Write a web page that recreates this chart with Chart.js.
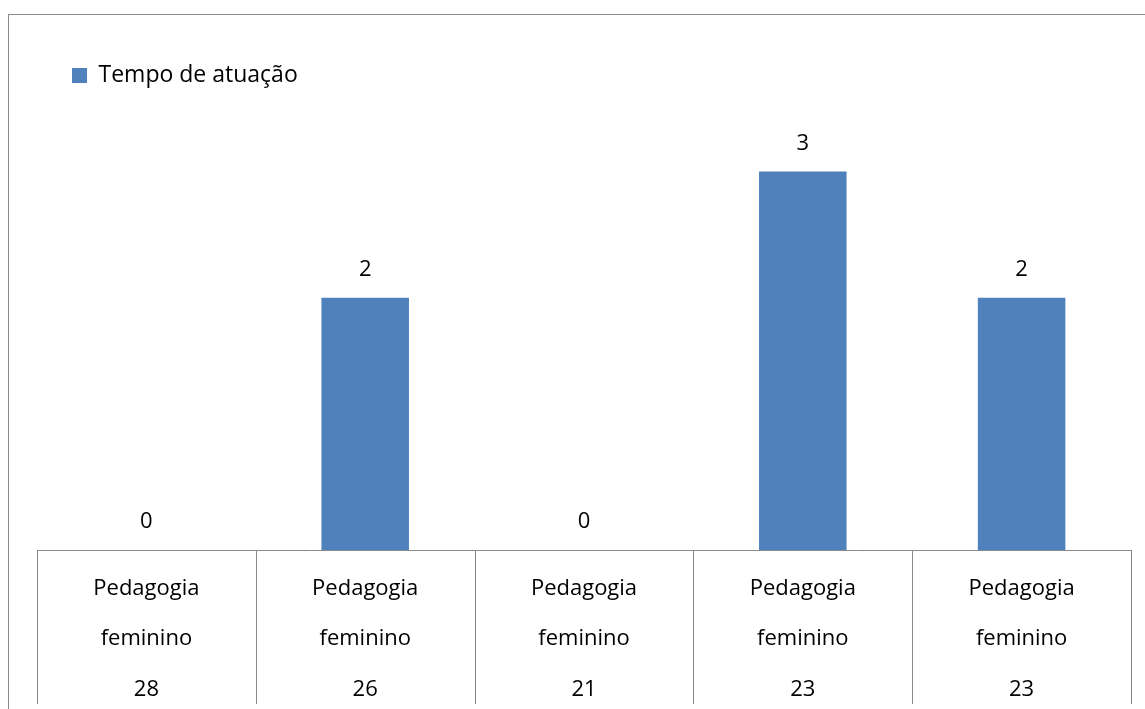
<!DOCTYPE html>
<html>
<head>
<meta charset="utf-8">
<script src="https://cdn.jsdelivr.net/npm/chart.js@4"></script>
<style>
  body { margin: 0; background: #fff; }
  #frame { position: absolute; left: 8px; top: 14px; width: 1200px; height: 800px;
           border-left: 1px solid #8a8a8a; border-top: 1px solid #8a8a8a; }
  #wrap { position: absolute; left: 0; top: 0; width: 1145px; height: 709px; }
</style>
</head>
<body>
<div id="frame"></div>
<div id="wrap"><canvas id="tempoChart" width="1145" height="709"></canvas></div>
<script>
var cursos = ['Pedagogia', 'Pedagogia', 'Pedagogia', 'Pedagogia', 'Pedagogia'];
var sexos = ['feminino', 'feminino', 'feminino', 'feminino', 'feminino'];
var idades = ['28', '26', '21', '23', '23'];
var tempoAtuacao = [0, 2, 0, 3, 2];

var labels = cursos.map(function(c, i){ return [c, sexos[i], idades[i]]; });
var fonte = "'Open Sans', sans-serif";

// linhas da tabela sob o eixo
var tabelaPlugin = {
	id: 'tabela',
	afterDraw: function(chart){
		var ctx = chart.ctx, xs = chart.scales.x;
		var n = labels.length;
		ctx.save();
		ctx.strokeStyle = '#8a8a8a';
		ctx.lineWidth = 1;
		ctx.beginPath();
		ctx.moveTo(xs.left, xs.top + 0.5);
		ctx.lineTo(xs.right, xs.top + 0.5);
		for (var i = 0; i <= n; i++) {
			var x;
			if (i === 0) x = xs.left;
			else if (i === n) x = xs.right;
			else x = (xs.getPixelForValue(i - 1) + xs.getPixelForValue(i)) / 2;
			x = Math.round(x) + 0.5;
			ctx.moveTo(x, xs.top);
			ctx.lineTo(x, xs.top + 154);
		}
		ctx.stroke();
		ctx.restore();
	}
};

// valores acima das barras
var valoresPlugin = {
	id: 'valores',
	afterDatasetsDraw: function(chart){
		var ctx = chart.ctx;
		var meta = chart.getDatasetMeta(0);
		ctx.save();
		ctx.font = "22px " + fonte;
		ctx.fillStyle = '#000';
		ctx.textAlign = 'center';
		ctx.textBaseline = 'middle';
		meta.data.forEach(function(bar, i){
			ctx.fillText(String(tempoAtuacao[i]), bar.x, bar.y - 28);
		});
		ctx.restore();
	}
};

new Chart(document.getElementById('tempoChart'), {
	type: 'bar',
	data: {
		labels: labels,
		datasets: [{
			label: 'Tempo de atuação',
			data: tempoAtuacao,
			backgroundColor: '#4F81BD',
			borderWidth: 0,
			categoryPercentage: 1,
			barPercentage: 0.4
		}]
	},
	plugins: [tabelaPlugin, valoresPlugin],
	options: {
		responsive: false,
		animation: false,
		layout: { padding: { left: 37, right: 14, top: 29, bottom: 0 } },
		plugins: {
			legend: {
				display: true,
				position: 'top',
				align: 'start',
				labels: {
					boxWidth: 15,
					boxHeight: 15,
					padding: 35,
					color: '#000',
					font: { family: fonte, size: 23 }
				}
			},
			tooltip: { enabled: false }
		},
		scales: {
			x: {
				grid: { display: false },
				border: { display: false },
				ticks: {
					color: '#000',
					padding: 5,
					maxRotation: 0,
					autoSkip: false,
					font: { family: fonte, size: 22, lineHeight: 2.3 }
				},
				afterFit: function(scale){ scale.height = 159; }
			},
			y: {
				display: false,
				min: 0,
				max: 3.59
			}
		}
	}
});
</script>
</body>
</html>
